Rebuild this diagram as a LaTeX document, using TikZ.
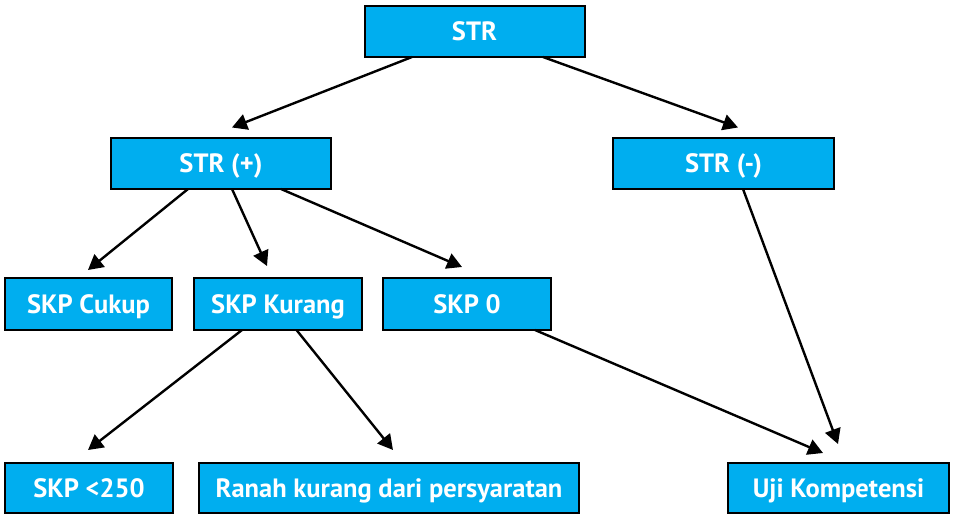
\documentclass[tikz,border=0pt]{standalone}
\usepackage{fontspec}
\setmainfont{PT Sans}
\usetikzlibrary{arrows.meta}
\definecolor{boxblue}{RGB}{0,174,239}
\tikzset{
  box/.style={draw=black, line width=2pt, fill=boxblue, text=white,
    font=\fontsize{26.5}{30}\selectfont\bfseries, inner sep=0pt,
    text height=18.5pt, text depth=0pt,
    minimum height=51pt, anchor=center},
  arr/.style={line width=2.4pt, -{Triangle[length=15pt,width=16pt]}}
}
\begin{document}
\begin{tikzpicture}[x=1pt,y=-1pt]
\useasboundingbox (0,0) rectangle (953,514);
\node[box, minimum width=220pt] (str) at (474.5,31.5) {STR};
\node[box, minimum width=220pt] (strp) at (221,163.5) {STR (+)};
\node[box, minimum width=221pt] (strm) at (723.5,163.5) {STR (-)};
\node[box, minimum width=167pt, minimum height=52pt] (cukup) at (88.5,304) {SKP Cukup};
\node[box, minimum width=168pt, minimum height=52pt] (kurang) at (278,304) {SKP Kurang};
\node[box, minimum width=168pt, minimum height=52pt] (skp0) at (467,304) {SKP 0};
\node[box, minimum width=168pt, minimum height=50pt] (s250) at (89,488) {SKP <250};
\node[box, minimum width=380pt, minimum height=50pt] (ranah) at (389,488) {Ranah kurang dari persyaratan};
\node[box, minimum width=221pt, minimum height=50pt] (uji) at (838.5,488) {Uji Kompetensi};

\draw[arr] ([xshift=-62.5pt,yshift=1pt]str.south) -- ([xshift=11pt,yshift=9.5pt]strp.north);
\draw[arr] ([xshift=68.5pt,yshift=1pt]str.south) -- ([xshift=14.5pt,yshift=9.5pt]strm.north);
\draw[arr] ([xshift=-33pt,yshift=1pt]strp.south) -- ([xshift=-0.5pt,yshift=7pt]cukup.north);
\draw[arr] ([xshift=11pt,yshift=1pt]strp.south) -- ([xshift=-11pt,yshift=11pt]kurang.north);
\draw[arr] ([xshift=60pt,yshift=1pt]strp.south) -- ([xshift=-5pt,yshift=10pt]skp0.north);
\draw[arr] ([xshift=19.5pt,yshift=1pt]strm.south) -- ([xshift=-0.5pt,yshift=18pt]uji.north);
\draw[arr] ([xshift=-36pt,yshift=1pt]kurang.south) -- ([xshift=-1pt,yshift=12pt]s250.north);
\draw[arr] ([xshift=18.5pt,yshift=1pt]kurang.south) -- ([xshift=4pt,yshift=12pt]ranah.north);
\draw[arr] ([xshift=68pt,yshift=1pt]skp0.south) -- ([xshift=-15.5pt,yshift=9pt]uji.north);
\end{tikzpicture}
\end{document}
